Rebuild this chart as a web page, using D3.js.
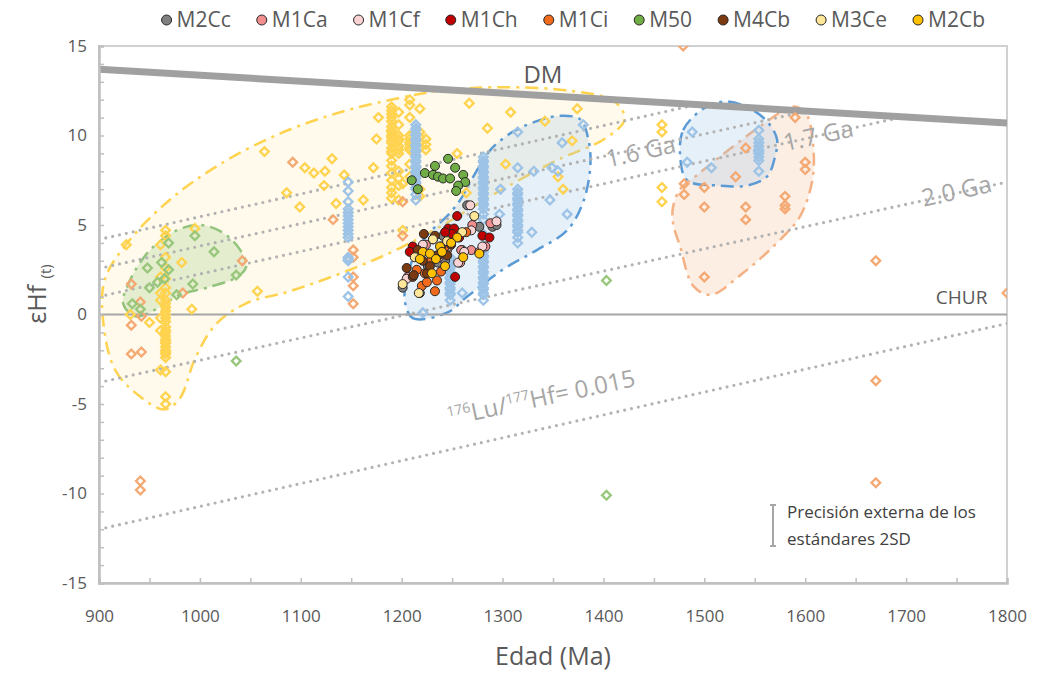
<!DOCTYPE html>
<html>
<head>
<meta charset="utf-8">
<script src="https://cdn.jsdelivr.net/npm/d3@7"></script>
<style>
  body { margin: 0; background: #fff; }
  text { font-family: "Open Sans", sans-serif; }
</style>
</head>
<body>
<div id="chart"></div>
<script>
// ---- data (age Ma, epsilon Hf) ----
const xTicks = [900, 1000, 1100, 1200, 1300, 1400, 1500, 1600, 1700, 1800];
const yTicks = [-15, -10, -5, 0, 5, 10, 15];

const dmLine = [[900, 13.7], [1800, 10.7]];
const churLine = [[900, 0], [1800, 0]];
// model age reference lines (Lu/Hf = 0.015)
const refLines = [
  [[900, 4.19], [1490, 11.7]],
  [[900, 2.57], [1600, 11.34]],
  [[900, 1.0], [1695, 11.02]],
  [[900, -3.8], [1800, 7.4]],
  [[900, -12.0], [1800, -0.5]]
];
const refLabels = ["1.6 Ga", "1.7 Ga", "2.0 Ga"];
const refLabelPos = [[1437, 9.1], [1613, 10.0], [1750, 6.9]];

// shaded fields
const yellowField = [[904,-0.3],[916,-3.1],[941,-4.6],[965,-5.3],[980,-4.7],[995,-2.5],[1015,-0.6],[1045,0.6],[1089,1.3],[1149,2.5],[1198,3.7],[1238,4.9],[1297,6.9],[1357,8.7],[1401,9.8],[1421,10.9],[1411,11.9],[1367,12.5],[1297,12.7],[1238,12.5],[1198,12.1],[1139,11.3],[1079,10.1],[1020,8.4],[970,6.4],[931,4.2],[906,2.0]];
const greenField = [[924,0.6],[936,-0.1],[957,0.3],[980,1.1],[1007,1.5],[1037,2.1],[1046,2.7],[1040,3.6],[1022,4.6],[1000,5.0],[977,4.7],[949,3.5],[929,1.7]];
const blueField = [[1203,0.8],[1211,-0.2],[1245,0.1],[1265,1.0],[1300,2.5],[1334,3.6],[1364,4.7],[1380,6.3],[1387,8.3],[1385,9.8],[1377,10.9],[1357,11.1],[1334,10.8],[1310,10.2],[1288,9.2],[1271,7.7],[1258,6.4],[1245,5.5],[1228,4.6],[1215,3.6],[1206,2.2]];
const blueField2 = [[1476,8.9],[1479,10.3],[1499,11.5],[1520,11.9],[1542,11.6],[1562,10.8],[1572,9.8],[1570,8.8],[1562,7.7],[1542,7.2],[1515,7.2],[1483,7.5]];
const orangeField = [[1469,6.0],[1476,7.0],[1493,7.8],[1522,9.1],[1555,10.5],[1582,11.5],[1592,11.6],[1602,11.1],[1608,9.4],[1607,7.5],[1595,5.5],[1572,4.0],[1538,2.3],[1506,1.1],[1489,1.6],[1476,3.8],[1469,5.1]];

// literature data (open diamonds)
const yellowPts = [[927,3.9],[931,0.0],[950,-0.45],[961,3.9],[961,2.1],[961,1.2],[961,0.8],[961,-0.2],[961,-0.9],[961,-3.1],
  [966,4.7],[966,4.4],[966,3.2],[966,2.6],[966,2.0],[966,1.5],[966,1.2],[966,0.8],[966,0.6],[966,0.4],[966,0.2],[966,0.0],[966,-0.2],[966,-0.4],[966,-0.7],[966,-0.9],[966,-1.0],[966,-1.2],[966,-1.4],[966,-1.5],[966,-1.6],[966,-1.8],[966,-2.0],[966,-2.1],[966,-2.2],[966,-2.4],[966,-3.2],[966,-4.6],[966,-5.0],
  [982,2.9],[992,0.3],[995,4.8],[1057,1.3],[1064,9.1],[1086,6.8],[1099,6.0],[1104,8.2],[1113,7.9],[1123,7.2],[1124,8.0],[1131,8.7],[1135,6.2],[1143,7.8],[1162,6.4],[1172,8.2],[1175,9.8],[1177,11.0],
  [1190,11.6],[1190,11.4],[1190,11.2],[1190,11.0],[1190,10.8],[1190,10.5],[1190,10.3],[1190,10.2],[1190,10.0],[1190,9.9],[1190,9.7],[1190,9.6],[1190,9.3],[1190,9.1],[1190,9.0],[1190,8.6],[1190,8.3],[1190,7.9],[1190,7.5],[1190,7.1],[1190,6.8],[1190,6.5],
  [1197,11.3],[1197,10.6],[1197,10.0],[1197,9.8],[1197,9.7],[1197,9.4],[1197,9.2],[1197,9.0],[1197,8.0],[1197,7.6],[1197,7.2],[1197,6.4],
  [1201,7.3],[1201,4.7],
  [1208,12.0],[1208,11.7],[1208,11.0],[1208,10.0],[1208,9.8],[1208,9.6],[1208,9.5],[1208,9.3],[1208,9.2],[1208,8.4],[1208,7.7],
  [1218,11.5],[1218,10.2],[1218,9.9],[1218,9.6],[1218,9.3],[1218,7.0],[1218,6.6],
  [1224,9.8],[1224,9.5],[1224,9.2],
  [1255,9.0],[1264,6.8],[1267,11.8],[1285,10.4],[1303,8.4],[1308,11.3],[1342,10.8],[1355,7.7],[1360,7.0],[1369,9.7],[1374,11.5],
  [1458,10.6],[1458,10.2],[1458,7.1],[1458,6.3]];
const orangePts = [[932,1.7],[941,0.7],[932,-0.6],[932,-2.2],[942,-2.1],[942,-0.1],[941,-9.3],[941,-9.8],[983,1.2],[1042,3.0],[1092,8.5],[1132,5.3],
  [1152,3.6],[1152,3.2],[1152,2.1],[1152,1.6],[1152,0.6],[1201,6.3],[1201,4.4],[1479,15.0],[1480,7.3],[1480,6.7],[1500,7.1],[1500,6.0],[1500,2.1],
  [1531,7.7],[1541,9.3],[1541,6.0],[1541,5.3],[1580,6.6],[1580,6.1],[1580,5.9],[1590,11.0],[1600,8.5],[1600,8.1],[1670,3.0],[1670,-3.7],[1670,-9.4],[1800,1.2]];
const greenPts = [[969,4.0],[995,4.4],[1014,3.5],[1036,2.2],[993,1.7],[962,2.9],[969,2.5],[948,2.6],[950,1.5],[958,1.8],[965,2.0],[977,1.1],[933,0.6],[941,0.3],[1036,-2.6],[1403,1.9],[1403,-10.1]];
const bluePts = [
  [1147,7.4],[1147,6.9],[1147,6.3],[1147,5.9],[1147,5.7],[1147,5.5],[1147,5.3],[1147,5.1],[1147,4.9],[1147,4.7],[1147,4.5],[1147,4.3],[1147,3.2],[1147,3.1],[1147,3.0],[1147,2.1],[1147,1.0],
  [1214,10.6],[1214,10.4],[1214,10.3],[1214,10.1],[1214,10.0],[1214,9.8],[1214,9.7],[1214,9.5],[1214,9.4],[1214,9.2],[1214,9.1],[1214,8.9],[1214,8.8],[1214,8.6],[1214,8.5],[1214,8.3],[1214,8.2],[1214,8.0],[1214,7.9],[1214,7.7],[1214,7.6],[1214,7.4],[1214,7.3],[1214,7.1],[1214,7.0],[1214,6.7],[1214,6.4],
  [1281,8.8],[1281,8.6],[1281,8.5],[1281,8.3],[1281,8.2],[1281,8.0],[1281,7.9],[1281,7.7],[1281,7.6],[1281,7.4],[1281,7.3],[1281,7.1],[1281,7.0],[1281,6.8],[1281,6.7],[1281,6.5],[1281,6.4],[1281,6.2],[1281,6.1],[1281,5.9],[1281,5.6],[1281,5.3],[1281,4.5],[1281,3.8],[1281,3.6],[1281,3.5],[1281,3.3],[1281,3.2],[1281,3.0],[1281,2.9],[1281,2.7],[1281,2.6],[1281,2.4],[1281,2.3],[1281,2.1],[1281,2.0],[1281,1.8],[1281,1.7],[1281,1.5],[1281,1.4],[1281,1.2],[1281,1.1],[1281,0.8],
  [1315,8.2],[1315,7.0],[1315,6.8],[1315,6.7],[1315,6.5],[1315,6.4],[1315,6.2],[1315,6.1],[1315,5.9],[1315,5.8],[1315,5.6],[1315,5.5],[1315,5.3],[1315,5.2],[1315,5.0],[1315,4.9],[1315,4.7],[1315,4.6],[1315,4.3],[1315,4.0],
  [1248,3.2],[1248,3.0],[1248,2.9],[1248,2.7],[1248,2.6],[1248,2.4],[1248,2.3],[1248,2.1],[1248,2.0],[1248,1.8],[1248,1.7],[1248,1.5],[1248,1.4],[1248,1.2],[1248,1.1],[1248,0.8],
  [1554,10.3],[1554,9.8],[1554,9.6],[1554,9.4],[1554,9.2],[1554,9.1],[1554,9.0],[1554,8.8],[1554,8.6],[1554,8.0],
  [1221,0.1],[1260,1.2],[1298,7.0],[1297,5.6],[1329,4.6],[1364,5.6],[1380,10.6],[1359,9.6],[1315,10.2],[1349,8.2],[1355,8.0],[1331,8.0],[1347,6.4],[1488,10.2],[1483,8.5],[1507,8.2]];

// this study (filled circles)
const seriesNames = ["M2Cc", "M1Ca", "M1Cf", "M1Ch", "M1Ci", "M50", "M4Cb", "M3Ce", "M2Cb"];
const seriesColors = ["#808080", "#f28e8e", "#f9d3d3", "#c00000", "#f26b1d", "#70ad47", "#7b3a10", "#ffe699", "#ffc000"];
const M2Cc = [[1265,6.1],[1277,4.9],[1290,4.9],[1294,5.0],[1231,4.2],[1241,4.4],[1236,2.9],[1243,3.0],[1218,1.2],[1260,3.6],[1226,2.7],[1201,1.5]];
const M1Ca = [[1269,3.6],[1259,3.6],[1277,3.5],[1283,3.8],[1224,3.9],[1245,3.6],[1270,5.0],[1258,2.9],[1206,2.1],[1212,3.4],[1237,3.2],[1288,5.1]];
const M1Cf = [[1268,6.1],[1269,4.7],[1294,5.2],[1221,3.9],[1247,3.8],[1256,2.9],[1205,2.0],[1280,3.8],[1235,3.3],[1262,3.5]];
const M1Ch = [[1255,5.5],[1246,4.8],[1252,4.8],[1250,4.5],[1257,4.3],[1280,4.4],[1287,4.3],[1253,2.1],[1211,3.8],[1208,3.5],[1216,3.3],[1243,4.6],[1239,3.4]];
const M1Ci = [[1223,2.3],[1235,1.9],[1220,1.6],[1225,1.8],[1239,2.4],[1264,4.6],[1215,2.5],[1229,3.0],[1243,3.8],[1233,1.3]];
const M50 = [[1246,8.7],[1233,8.3],[1223,7.9],[1231,7.8],[1236,7.7],[1241,7.6],[1248,7.6],[1253,8.2],[1261,7.8],[1263,7.4],[1256,7.2],[1254,6.9],[1210,7.5],[1216,7.0]];
const M4Cb = [[1222,4.5],[1233,4.4],[1236,3.3],[1245,3.3],[1221,3.0],[1211,2.1],[1225,2.3],[1239,3.8],[1228,2.7],[1216,3.6],[1249,3.9],[1205,2.6],[1212,2.2]];
const M3Ce = [[1272,5.5],[1260,4.6],[1231,4.2],[1201,1.7],[1217,1.2],[1213,3.2],[1245,4.1]];
const M2Cb = [[1255,4.3],[1238,3.8],[1221,3.5],[1228,3.4],[1240,3.5],[1261,3.2],[1277,3.4],[1243,2.7],[1230,2.3],[1234,3.1],[1249,4.0],[1218,3.1]];
const seriesData = [M2Cc, M1Ca, M1Cf, M1Ch, M1Ci, M50, M4Cb, M3Ce, M2Cb];

// ---- chart ----
const width = 1037, height = 673;
const margin = { top: 46, right: 30, bottom: 90, left: 99 };

const svg = d3.select("#chart").append("svg")
  .attr("width", width).attr("height", height)
  .style("background", "#fff");

const x = d3.scaleLinear().domain([900, 1800]).range([margin.left, width - margin.right]);
const y = d3.scaleLinear().domain([-15, 15]).range([height - margin.bottom, margin.top]);
const px = d => x(d[0]), py = d => y(d[1]);

svg.append("defs").append("clipPath").attr("id", "clip")
  .append("rect")
  .attr("x", x(900)).attr("y", y(15))
  .attr("width", x(1800) - x(900)).attr("height", y(-15) - y(15));

// plot frame
svg.append("rect")
  .attr("x", x(900)).attr("y", y(15))
  .attr("width", x(1800) - x(900)).attr("height", y(-15) - y(15))
  .attr("fill", "none").attr("stroke", "#d0d0d0").attr("stroke-width", 2);

const plot = svg.append("g").attr("clip-path", "url(#clip)");

// fields
const blob = d3.line().x(px).y(py).curve(d3.curveCatmullRomClosed.alpha(0.5));
const fields = [
  { pts: yellowField, fill: "#ffd966", op: 0.13, stroke: "#ffd34f" },
  { pts: greenField, fill: "#a9d18e", op: 0.3, stroke: "#93c47d" },
  { pts: orangeField, fill: "#f4b183", op: 0.22, stroke: "#f4b183" },
  { pts: blueField, fill: "#9dc3e6", op: 0.25, stroke: "#5b9bd5" },
  { pts: blueField2, fill: "#9dc3e6", op: 0.25, stroke: "#5b9bd5" }
];
fields.forEach(f => {
  plot.append("path").attr("d", blob(f.pts))
    .attr("fill", f.fill).attr("fill-opacity", f.op)
    .attr("stroke", f.stroke).attr("stroke-width", 2.5)
    .attr("stroke-dasharray", "13,6,3,6");
});

// reference lines
const line = d3.line().x(px).y(py);
refLines.forEach(l => {
  plot.append("path").attr("d", line(l))
    .attr("fill", "none").attr("stroke", "#b3b3b3").attr("stroke-width", 3.2)
    .attr("stroke-linecap", "round").attr("stroke-dasharray", "0,7");
});
plot.append("path").attr("d", line(churLine))
  .attr("stroke", "#a6a6a6").attr("stroke-width", 2).attr("fill", "none");
plot.append("path").attr("d", line(dmLine))
  .attr("stroke", "#a0a0a0").attr("stroke-width", 7).attr("fill", "none");

// open diamonds
const diamond = d3.symbol(d3.symbolSquare, 38)();
function diamonds(data, color) {
  plot.append("g").selectAll("path").data(data).enter().append("path")
    .attr("d", diamond)
    .attr("transform", d => `translate(${px(d)},${py(d)}) rotate(45)`)
    .attr("fill", "none").attr("stroke", color).attr("stroke-width", 2.3);
}
diamonds(yellowPts, "#ffd34f");
diamonds(orangePts, "#f4a973");
diamonds(greenPts, "#98c77b");
diamonds(bluePts, "#9dc3e6");

// filled circles
seriesData.forEach((s, i) => {
  plot.append("g").selectAll("circle").data(s).enter().append("circle")
    .attr("cx", px).attr("cy", py).attr("r", 4.5)
    .attr("fill", seriesColors[i]).attr("stroke", "#262626").attr("stroke-width", 1);
});

// axes
const yMinor = svg.append("g").attr("transform", `translate(${x(900)},0)`)
  .call(d3.axisRight(y).tickValues(d3.range(-15, 16, 1)).tickSize(5).tickFormat(""));
const xMinor = svg.append("g").attr("transform", `translate(0,${y(-15)})`)
  .call(d3.axisTop(x).tickValues(d3.range(900, 1801, 50)).tickSize(5).tickFormat(""));
[yMinor, xMinor].forEach(g => {
  g.select(".domain").attr("stroke", "#bfbfbf").attr("stroke-width", 2.5);
  g.selectAll(".tick line").attr("stroke", "#bfbfbf").attr("stroke-width", 1.5);
});

const yAxis = svg.append("g").attr("transform", `translate(${x(900)},0)`)
  .call(d3.axisLeft(y).tickValues(yTicks).tickSize(0).tickPadding(12).tickFormat(d => String(d)));
const xAxis = svg.append("g").attr("transform", `translate(0,${y(-15)})`)
  .call(d3.axisBottom(x).tickValues(xTicks).tickSize(0).tickPadding(27).tickFormat(d => String(d)));
[yAxis, xAxis].forEach(g => {
  g.select(".domain").remove();
  g.selectAll("text").attr("font-size", 17).attr("fill", "#595959")
    .attr("font-family", "'Open Sans', sans-serif");
});

// axis titles
svg.append("text").attr("x", (x(900) + x(1800)) / 2).attr("y", 665)
  .attr("text-anchor", "middle").attr("font-size", 25).attr("fill", "#595959")
  .text("Edad (Ma)");
const yt = svg.append("text").attr("transform", "translate(46,294) rotate(-90)")
  .attr("text-anchor", "middle").attr("fill", "#595959");
yt.append("tspan").attr("font-size", 25).text("εHf ");
yt.append("tspan").attr("font-size", 15).attr("dy", 5).text("(t)");

// line labels
svg.append("text").attr("x", x(1340)).attr("y", y(12.95))
  .attr("font-size", 24).attr("fill", "#595959").attr("text-anchor", "middle").text("DM");
svg.append("text").attr("x", x(1755)).attr("y", y(0.6))
  .attr("font-size", 19).attr("fill", "#595959").attr("text-anchor", "middle").text("CHUR");
refLabels.forEach((t, i) => {
  const p = refLabelPos[i];
  svg.append("text")
    .attr("transform", `translate(${px(p)},${py(p)}) rotate(-12.5)`)
    .attr("dy", "0.35em").attr("text-anchor", "middle")
    .attr("font-size", 24).attr("fill", "#a6a6a6").text(t);
});
const lu = svg.append("text")
  .attr("transform", `translate(${x(1340)},${y(-5.1)}) rotate(-12)`)
  .attr("dy", "0.35em").attr("text-anchor", "middle")
  .attr("font-size", 24).attr("fill", "#a6a6a6");
lu.append("tspan").attr("font-size", 14).attr("dy", -9).text("176");
lu.append("tspan").attr("dy", 9).text("Lu/");
lu.append("tspan").attr("font-size", 14).attr("dy", -9).text("177");
lu.append("tspan").attr("dy", 9).text("Hf= 0.015");

// precision bar
const pb = svg.append("g").attr("stroke", "#a6a6a6").attr("stroke-width", 2);
pb.append("line").attr("x1", 773).attr("x2", 773).attr("y1", 505).attr("y2", 546);
pb.append("line").attr("x1", 770).attr("x2", 776).attr("y1", 505).attr("y2", 505);
pb.append("line").attr("x1", 770).attr("x2", 776).attr("y1", 546).attr("y2", 546);
svg.append("text").attr("x", 787).attr("y", 518).attr("font-size", 17)
  .attr("font-family", "Lato, sans-serif").attr("fill", "#404040").text("Precisión externa de los");
svg.append("text").attr("x", 787).attr("y", 545).attr("font-size", 17)
  .attr("font-family", "Lato, sans-serif").attr("fill", "#404040").text("estándares 2SD");

// legend
const legend = svg.append("g");
let lx = 0;
const gap = 26;
seriesNames.forEach((n, i) => {
  const g = legend.append("g").attr("transform", `translate(${lx},0)`);
  g.append("circle").attr("cx", 5).attr("cy", 0).attr("r", 5)
    .attr("fill", seriesColors[i]).attr("stroke", "#262626").attr("stroke-width", 1);
  const t = g.append("text").attr("x", 15).attr("dy", "0.35em")
    .attr("font-size", 21).attr("fill", "#595959").text(n);
  lx += 15 + t.node().getComputedTextLength() + gap;
});
lx -= gap;
legend.attr("transform", `translate(${985 - lx},20)`);
</script>
</body>
</html>
